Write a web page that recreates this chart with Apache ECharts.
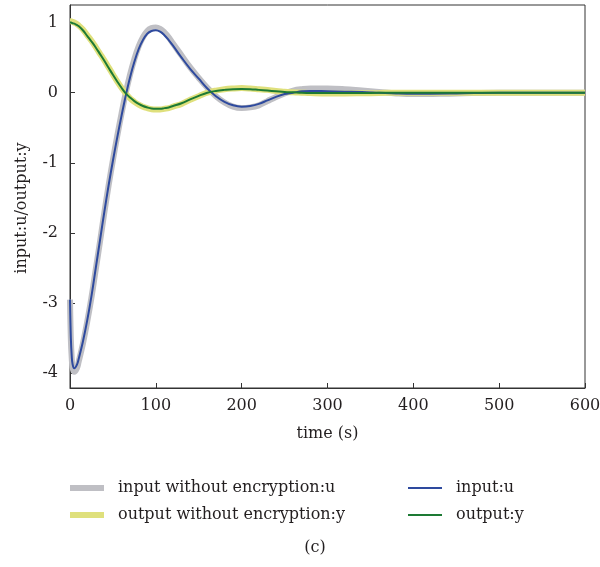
<!DOCTYPE html>
<html>
<head>
<meta charset="utf-8">
<script src="https://cdn.jsdelivr.net/npm/echarts@6/dist/echarts.min.js"></script>
<style>
  html, body { margin: 0; padding: 0; background: #fff; }
  #chart { width: 600px; height: 567px; }
</style>
</head>
<body>
<div id="chart"></div>
<script>
// time axis (s)
const time = [0, 1, 2, 3, 5, 8, 10, 15, 20, 25, 30, 35, 40, 45, 50, 55, 60, 65, 70, 75, 80, 85, 90, 95, 100,
  105, 110, 115, 120, 130, 140, 150, 160, 170, 180, 190, 200, 210, 220, 230, 240, 250, 260, 270, 280,
  300, 320, 340, 360, 380, 400, 450, 500, 550, 600];

// input with encryption
const inputU = [-2.95, -3.5, -3.75, -3.87, -3.93, -3.88, -3.8, -3.55, -3.25, -2.9, -2.5, -2.1, -1.7, -1.32, -0.97,
  -0.64, -0.33, -0.04, 0.22, 0.44, 0.62, 0.75, 0.84, 0.88, 0.89,
  0.87, 0.82, 0.75, 0.67, 0.5, 0.34, 0.2, 0.06, -0.05, -0.13, -0.18, -0.2, -0.19, -0.16, -0.11, -0.06,
  -0.02, 0.0, 0.02, 0.025, 0.02, 0.015, 0.01, 0.0, -0.01, -0.015, -0.01, 0.0, 0.0, 0.0];

// input without encryption
const inputPlainU = [-2.95, -3.52, -3.78, -3.92, -3.98, -3.93, -3.84, -3.58, -3.27, -2.92, -2.52, -2.12, -1.71, -1.32, -0.96,
  -0.62, -0.3, 0.0, 0.26, 0.48, 0.66, 0.79, 0.88, 0.92, 0.93,
  0.91, 0.86, 0.79, 0.7, 0.53, 0.36, 0.21, 0.07, -0.05, -0.14, -0.2, -0.22, -0.21, -0.18, -0.12, -0.06,
  -0.01, 0.03, 0.05, 0.06, 0.06, 0.05, 0.03, 0.01, -0.01, -0.02, -0.01, 0.0, 0.0, 0.0];

// output with encryption
const outputY = [1.0, 1.0, 0.995, 0.99, 0.985, 0.965, 0.95, 0.89, 0.81, 0.73, 0.645, 0.55, 0.455, 0.355, 0.255,
  0.16, 0.07, -0.01, -0.07, -0.12, -0.16, -0.19, -0.21, -0.225, -0.23,
  -0.23, -0.22, -0.21, -0.19, -0.15, -0.095, -0.045, 0.0, 0.025, 0.04, 0.05, 0.052, 0.05, 0.04, 0.03, 0.02,
  0.01, 0.005, 0.0, -0.003, -0.005, -0.005, -0.004, -0.002, 0.0, 0.0, 0.0, 0.0, 0.0, 0.0];

// output without encryption
const outputPlainY = [1.02, 1.02, 1.015, 1.01, 1.0, 0.98, 0.96, 0.9, 0.82, 0.74, 0.65, 0.555, 0.46, 0.36, 0.26,
  0.16, 0.07, -0.01, -0.08, -0.13, -0.17, -0.2, -0.22, -0.235, -0.24,
  -0.24, -0.23, -0.22, -0.2, -0.16, -0.1, -0.05, 0.0, 0.03, 0.05, 0.06, 0.065, 0.06, 0.05, 0.04, 0.025,
  0.015, 0.005, 0.0, -0.005, -0.01, -0.01, -0.008, -0.005, 0.0, 0.0, 0.0, 0.0, 0.0, 0.0];

const yTicks = [-4, -3, -2, -1, 0, 1];

const pairs = (ys) => time.map((t, k) => [t, ys[k]]);

const font = '"DejaVu Serif", "Liberation Serif", serif';
const ink = '#231f20';

const chart = echarts.init(document.getElementById('chart'), null, { renderer: 'canvas' });

const lineSeries = (name, ys, color, width) => ({
  name,
  type: 'line',
  data: pairs(ys),
  smooth: 0.4,
  showSymbol: false,
  symbol: 'none',
  color,
  lineStyle: { color, width },
});

const legendText = { fontFamily: font, fontSize: 16, color: ink, lineHeight: 18, padding: [0, 0, 0, 9] };

chart.setOption({
  animation: false,
  backgroundColor: '#fff',
  grid: {
    left: 70, right: 15, top: 5, bottom: 179,
    containLabel: false,
    outerBoundsMode: 'none',
    show: true, borderColor: '#333', borderWidth: 1,
  },
  xAxis: {
    type: 'value',
    min: 0,
    max: 600,
    interval: 100,
    name: 'time (s)',
    nameLocation: 'middle',
    nameGap: 38,
    nameTextStyle: { fontFamily: font, fontSize: 16, color: ink },
    axisLine: { onZero: false, lineStyle: { color: '#333' } },
    axisTick: { inside: true, length: 5, lineStyle: { color: '#333' } },
    axisLabel: { fontFamily: font, fontSize: 16, color: ink, margin: 10 },
    splitLine: { show: false },
  },
  yAxis: {
    type: 'value',
    min: -4.21,
    max: 1.25,
    axisLine: { show: true, onZero: false, lineStyle: { color: '#333' } },
    axisTick: { show: true, inside: true, length: 5, customValues: yTicks, lineStyle: { color: '#333' } },
    axisLabel: { fontFamily: font, fontSize: 16, color: ink, margin: 12, customValues: yTicks },
    splitLine: { show: false },
  },
  legend: [
    {
      data: ['input without encryption:u', 'output without encryption:y'],
      orient: 'vertical',
      left: 70,
      top: 479,
      padding: 0,
      itemWidth: 34,
      itemHeight: 6,
      itemGap: 9,
      icon: 'rect',
      textStyle: legendText,
    },
    {
      data: ['input:u', 'output:y'],
      orient: 'vertical',
      left: 408,
      top: 479,
      padding: 0,
      itemWidth: 34,
      itemHeight: 2,
      itemGap: 9,
      icon: 'rect',
      textStyle: legendText,
    },
  ],
  graphic: [
    {
      type: 'text',
      x: 22,
      y: 208,
      rotation: Math.PI / 2,
      style: {
        text: 'input:u/output:y', fontFamily: font, fontSize: 16, fill: ink,
        align: 'center', verticalAlign: 'middle',
      },
    },
    {
      type: 'text',
      x: 315,
      y: 548,
      style: {
        text: '(c)', fontFamily: font, fontSize: 16, fill: ink,
        align: 'center', verticalAlign: 'middle',
      },
    },
  ],
  series: [
    lineSeries('input without encryption:u', inputPlainU, '#bfbfc4', 6),
    lineSeries('output without encryption:y', outputPlainY, '#dfe07c', 6),
    lineSeries('input:u', inputU, '#2e4a9e', 2),
    lineSeries('output:y', outputY, '#1d7a34', 2),
  ],
});
</script>
</body>
</html>
